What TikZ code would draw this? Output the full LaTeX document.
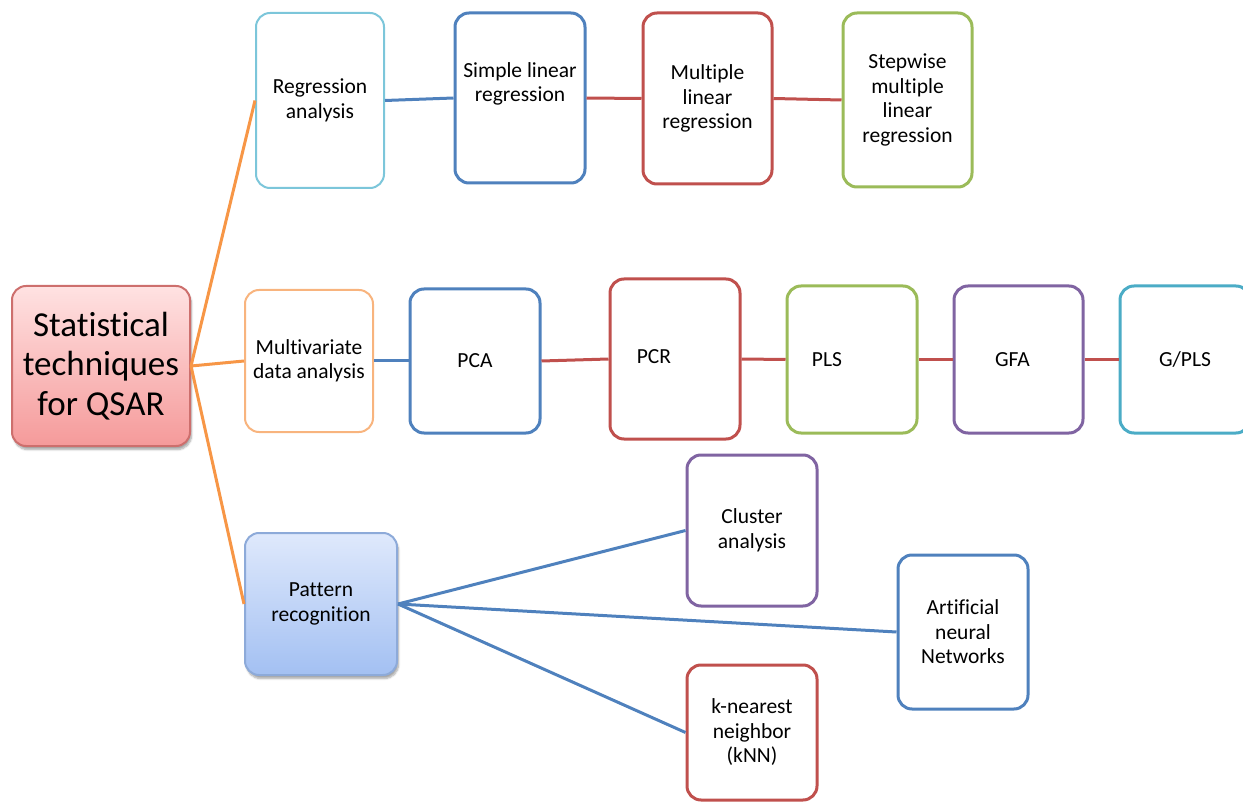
\documentclass[tikz,border=0pt]{standalone}
\usepackage{fontspec}
\setmainfont{Carlito}[Ligatures={NoCommon}]
\usetikzlibrary{shadows.blur}
\definecolor{ofblue}{HTML}{4F81BD}
\definecolor{ofred}{HTML}{C0504D}
\definecolor{ofgreen}{HTML}{9BBB59}
\definecolor{ofpurple}{HTML}{8064A2}
\definecolor{ofaqua}{HTML}{4BACC6}
\definecolor{oforange}{HTML}{F79646}
\definecolor{lightaqua}{HTML}{7CC6DA}
\definecolor{lightorange}{HTML}{F8B47E}
\definecolor{rootline}{HTML}{CD6F6D}
\definecolor{roottop}{HTML}{FFE2E2}
\definecolor{rootbot}{HTML}{F59A9A}
\definecolor{patline}{HTML}{8DAAD9}
\definecolor{pattop}{HTML}{DFE9FC}
\definecolor{patbot}{HTML}{A3C0F2}
\begin{document}
\begin{tikzpicture}[x=1pt,y=-1pt,
  txt/.style={align=center, text=black, font=\fontsize{21.5}{24.5}\selectfont},
  box/.style={draw=#1, line width=3pt, rounded corners=14pt, fill=white,
              inner sep=0pt, txt},
  sz/.style 2 args={minimum width=#1pt, minimum height=#2pt},
  softshadow/.style={blur shadow={shadow xshift=1.5pt, shadow yshift=-3.5pt,
              shadow blur steps=6, shadow opacity=35}},
  wire/.style={draw=#1, line width=3pt},
]
\useasboundingbox (0,0) rectangle (1243,802);
\clip (0,0) rectangle (1243,802);

% root
\node[draw=rootline, line width=2pt, rounded corners=14pt, inner sep=0pt,
      top color=roottop, bottom color=rootbot, softshadow, sz={178}{160},
      align=center, font=\fontsize{35}{39.5}\selectfont]
  (root) at (101,366) {Statistical\\techniques\\for QSAR};

% first level
\node[box=lightaqua, line width=2pt, sz={128}{175}] (reg) at (320,100.5) {Regression\\analysis};
\node[box=lightorange, line width=2pt, sz={128}{142}] (mva) at (309,361) {Multivariate\\data analysis};
\node[draw=patline, line width=2pt, rounded corners=14pt, inner sep=0pt,
      top color=pattop, bottom color=patbot, softshadow, sz={152}{142}, txt]
  (pat) at (321,604) {Pattern\\recognition};

% regression branch
\node[box=ofblue, sz={130}{170},
      label={[txt, yshift=14pt]center:{Simple linear\\regression}}] (slr) at (520,98) {};
\node[box=ofred, sz={129}{171}] (mlr) at (707.5,98.5) {Multiple\\linear\\regression};
\node[box=ofgreen, sz={129}{174}] (smlr) at (907.5,100) {Stepwise\\multiple\\linear\\regression};

% multivariate branch
\node[box=ofblue, sz={130}{144}] (pca) at (475,361) {PCA};
\node[box=ofred, sz={130}{160},
      label={[txt, xshift=-21pt, yshift=2pt]center:PCR}] (pcr) at (675,359) {};
\node[box=ofgreen, sz={130}{147},
      label={[txt, xshift=-25pt]center:PLS}] (pls) at (852,359.5) {};
\node[box=ofpurple, sz={129}{147},
      label={[txt, xshift=-6pt]center:GFA}] (gfa) at (1018.5,359.5) {};
\node[box=ofaqua, sz={130}{147}] (gpls) at (1185,359.5) {G/PLS};

% pattern recognition branch
\node[box=ofpurple, sz={130}{151}] (clu) at (752,530.5) {Cluster\\analysis};
\node[box=ofblue, sz={130}{154}] (ann) at (963,632) {Artificial\\neural\\Networks};
\node[box=ofred, sz={130}{135}] (knn) at (752,732.5) {k-nearest\\neighbor\\(kNN)};

% connectors
\draw[wire=oforange] (root.east) -- (reg.west);
\draw[wire=oforange] (root.east) -- (mva.west);
\draw[wire=oforange] (root.east) -- (pat.west);

\draw[wire=ofblue] (reg.east) -- (slr.west);
\draw[wire=ofred] (slr.east) -- (mlr.west);
\draw[wire=ofred] (mlr.east) -- (smlr.west);

\draw[wire=ofblue] (mva.east) -- (pca.west);
\draw[wire=ofred] (pca.east) -- (pcr.west);
\draw[wire=ofred] (pcr.east) -- (pls.west);
\draw[wire=ofred] (pls.east) -- (gfa.west);
\draw[wire=ofred] (gfa.east) -- (gpls.west);

\draw[wire=ofblue] (pat.east) -- (clu.west);
\draw[wire=ofblue] (pat.east) -- (ann.west);
\draw[wire=ofblue] (pat.east) -- (knn.west);
\end{tikzpicture}
\end{document}
